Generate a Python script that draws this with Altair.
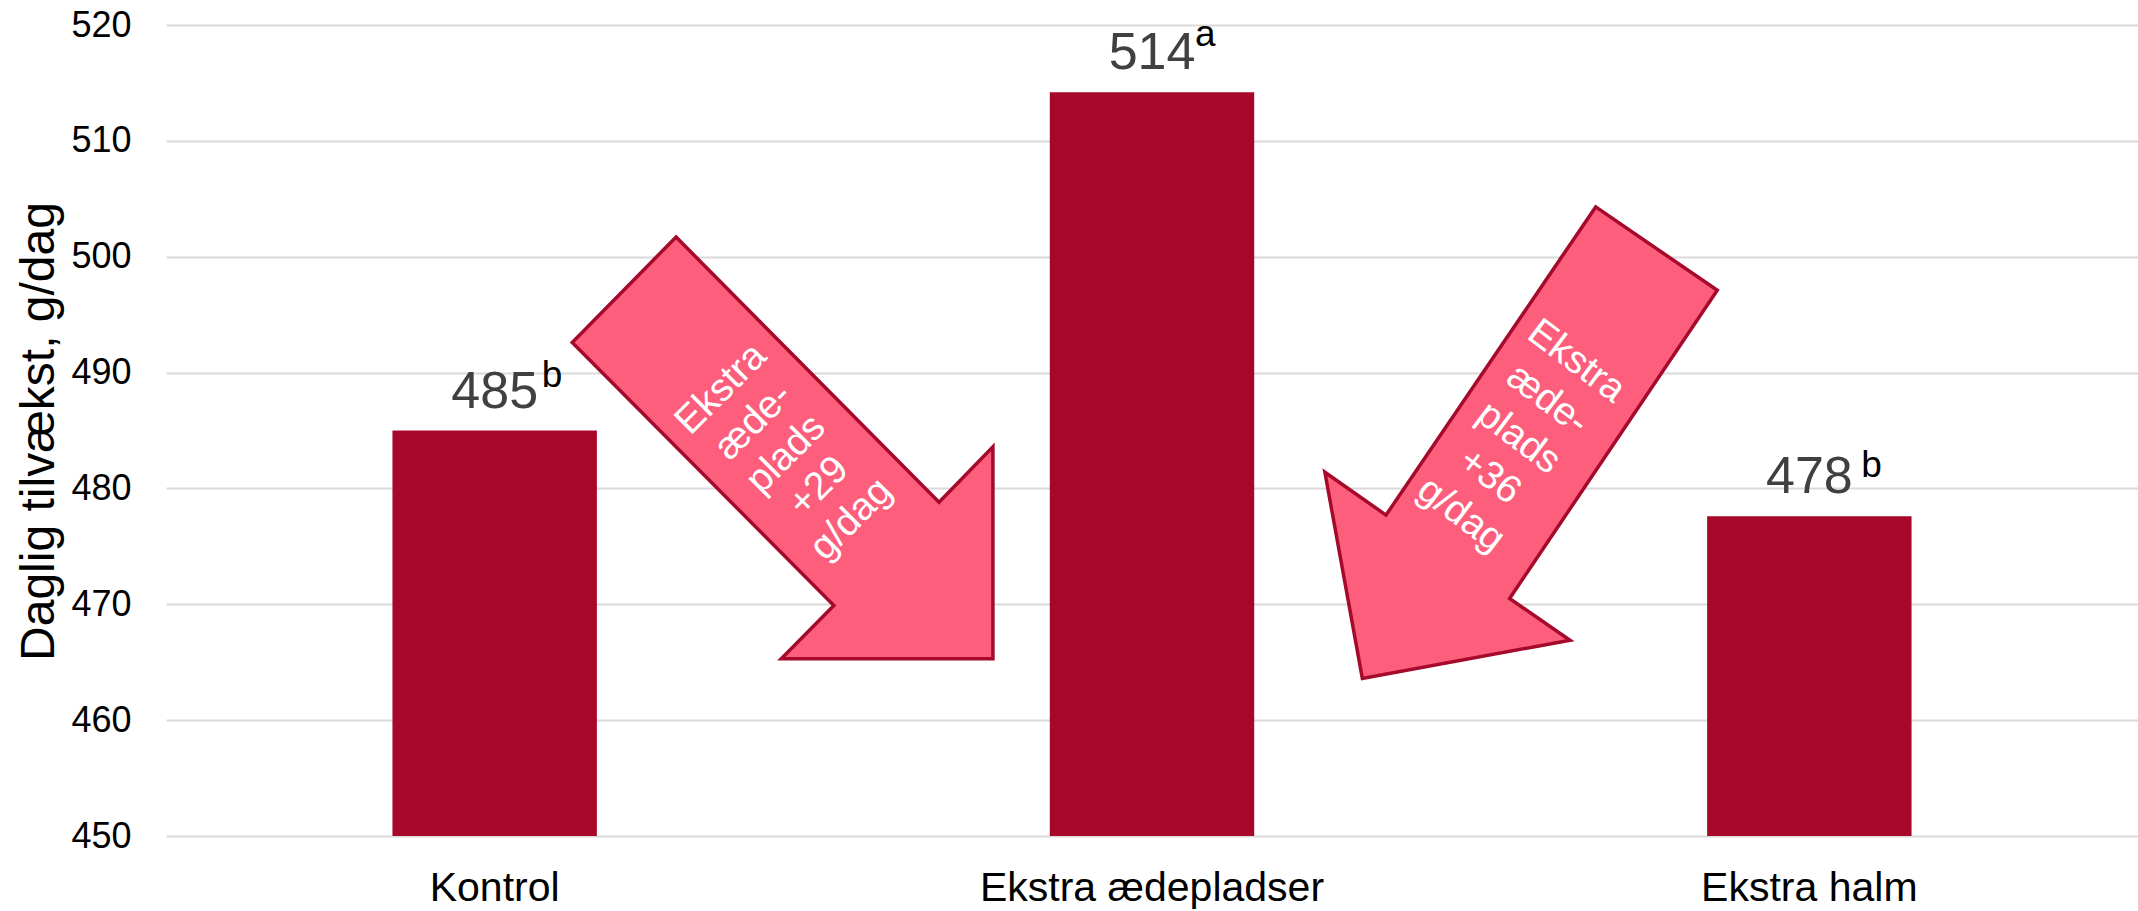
import altair as alt
import pandas as pd

# ---- chart values ----
categories = ["Kontrol", "Ekstra ædepladser", "Ekstra halm"]
values = [485.0, 514.2, 477.6]
value_labels = ["485", "514", "478"]
sig_letters = ["b", "a", "b"]
y_ticks = [450, 460, 470, 480, 490, 500, 510, 520]

# ---- annotation arrows (in data units: category slot u, value v) ----
arrow1_u = [0.618, 0.776, 1.176, 1.258, 1.258, 0.936, 1.016]
arrow1_v = [492.6, 501.7, 478.8, 483.6, 465.3, 465.3, 469.9]
arrow2_u = [2.175, 2.360, 2.044, 2.136, 1.820, 1.763, 1.856]
arrow2_v = [504.3, 497.1, 470.5, 466.9, 463.6, 481.4, 477.7]
arrow_texts = ["Ekstra\næde-\nplads\n+29\ng/dag", "Ekstra\næde-\nplads\n+36\ng/dag"]
arrow_text_u = [0.844, 2.146]
arrow_text_v = [488.6, 491.0]

FONT = "Liberation Sans"
BAR = "#A7082A"
ARROW_FILL = "#FC5E7B"
ARROW_STROKE = "#A50A2C"

bars_df = pd.DataFrame({"cat": categories, "val": values,
                        "lab": value_labels, "sig": sig_letters})

arrow_rows = []
for name, us, vs in (("a1", arrow1_u, arrow1_v), ("a2", arrow2_u, arrow2_v)):
    for i, (u, v) in enumerate(zip(us, vs)):
        arrow_rows.append({"arrow": name, "u": u, "v": v, "o": i})
arrows_df = pd.DataFrame(arrow_rows)

xband = alt.Scale(domain=categories, paddingInner=0.689, paddingOuter=0.3445)
yscale = alt.Scale(domain=[450, 520], nice=False, zero=False)
xq = alt.Scale(domain=[0, 3], nice=False, zero=False)

base = alt.Chart(bars_df)

bars = base.mark_bar(color=BAR).encode(
    x=alt.X("cat:N", scale=xband, sort=categories,
            axis=alt.Axis(title=None, labelAngle=0, labelFontSize=41, labelFont=FONT,
                          labelColor="black", labelPadding=32, labelLimit=0,
                          ticks=False, domain=False, grid=False)),
    y=alt.Y("val:Q", scale=yscale,
            axis=alt.Axis(values=y_ticks, title="Daglig tilvækst, g/dag",
                          titleFontSize=48, titleFont=FONT, titleFontWeight="normal",
                          titleColor="black", titleAngle=270, titleX=-113, titleY=406,
                          titleAlign="center", titleBaseline="alphabetic",
                          labelFontSize=36, labelFont=FONT, labelColor="black",
                          labelPadding=35, ticks=False, domain=False,
                          grid=True, gridColor="#D9D9D9", gridWidth=2)),
    y2=alt.datum(450),
)

nums = base.mark_text(font=FONT, fontSize=52, color="#404040", align="center",
                      baseline="alphabetic", dy=-23).encode(
    x=alt.X("cat:N", scale=xband, sort=categories, axis=None),
    y=alt.Y("val:Q", scale=yscale),
    text="lab:N",
)

sup_offsets = {"Kontrol": (47, -44), "Ekstra ædepladser": (43, -46), "Ekstra halm": (52, -39)}
sups = []
for c in categories:
    dx, dy = sup_offsets[c]
    sups.append(
        base.transform_filter(alt.datum.cat == c).mark_text(
            font=FONT, fontSize=37, color="black", align="left",
            baseline="alphabetic", dx=dx, dy=dy).encode(
            x=alt.X("cat:N", scale=xband, sort=categories, axis=None),
            y=alt.Y("val:Q", scale=yscale),
            text="sig:N",
        )
    )

arrows = alt.Chart(arrows_df).mark_line(
    interpolate="linear-closed", fill=ARROW_FILL, stroke=ARROW_STROKE,
    strokeWidth=3.5, strokeJoin="miter").encode(
    x=alt.X("u:Q", scale=xq, axis=None),
    y=alt.Y("v:Q", scale=yscale),
    detail="arrow:N",
    order="o:Q",
)

atext_layers = []
for t, u, v, ang, lh in zip(arrow_texts, arrow_text_u, arrow_text_v, [315, 37], [46, 48]):
    df = pd.DataFrame({"u": [u], "v": [v], "t": [t]})
    atext_layers.append(
        alt.Chart(df).mark_text(font=FONT, fontSize=39, color="white", align="center",
                                baseline="middle", lineBreak="\n", lineHeight=lh,
                                angle=ang).encode(
            x=alt.X("u:Q", scale=xq, axis=None),
            y=alt.Y("v:Q", scale=yscale),
            text="t:N",
        )
    )

chart = alt.layer(bars, nums, *sups, arrows, *atext_layers).resolve_scale(
    x="independent"
).properties(
    width=1972, height=811,
    autosize=alt.AutoSizeParams(type="none"),
    padding={"left": 166, "top": 25, "right": 0, "bottom": 75},
    background="white",
).configure_view(stroke=None)

chart.save("out.html", embed_options={"renderer": "svg", "actions": False})
